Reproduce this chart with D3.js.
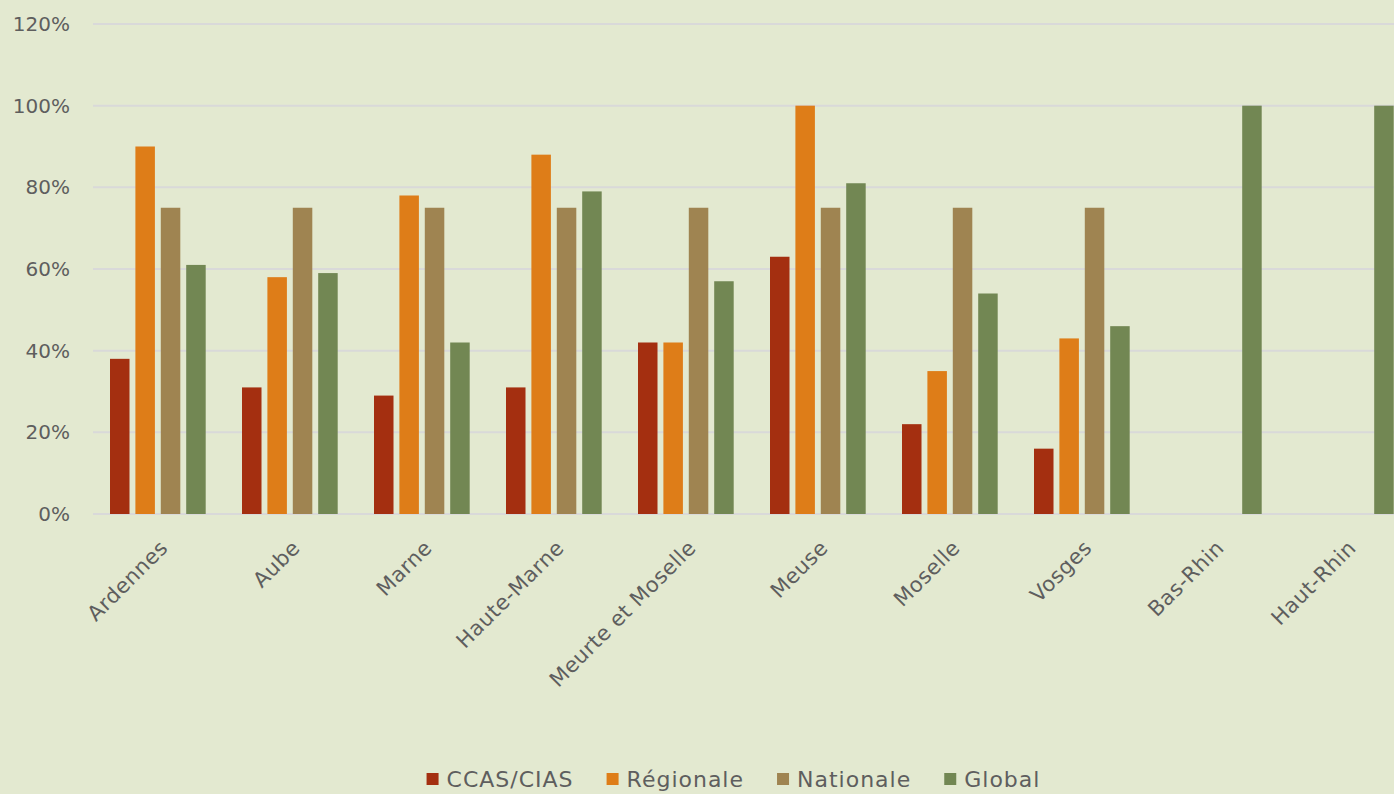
<!DOCTYPE html>
<html>
<head>
<meta charset="utf-8">
<script src="https://cdn.jsdelivr.net/npm/d3@7"></script>
<style>
  html, body { margin: 0; padding: 0; background: #E3E9D0; overflow: hidden; }
  svg { display: block; }
  text { font-family: "DejaVu Sans", sans-serif; fill: #5E5E5E; }
</style>
</head>
<body>
<svg id="chart" width="1394" height="794"></svg>
<script>
const categories = ["Ardennes", "Aube", "Marne", "Haute-Marne", "Meurte et Moselle", "Meuse", "Moselle", "Vosges", "Bas-Rhin", "Haut-Rhin"];
const seriesNames = ["CCAS/CIAS", "Régionale", "Nationale", "Global"];
const ccas      = [0.38, 0.31, 0.29, 0.31, 0.42, 0.63, 0.22, 0.16, 0, 0];
const regionale = [0.90, 0.58, 0.78, 0.88, 0.42, 1.00, 0.35, 0.43, 0, 0];
const nationale = [0.75, 0.75, 0.75, 0.75, 0.75, 0.75, 0.75, 0.75, 0, 0];
const global    = [0.61, 0.59, 0.42, 0.79, 0.57, 0.81, 0.54, 0.46, 1.00, 1.00];
const yTicks = [0, 0.2, 0.4, 0.6, 0.8, 1.0, 1.2];
const colors = ["#A42F10", "#DE7D18", "#9F8451", "#728753"];

const seriesValues = [ccas, regionale, nationale, global];
const data = categories.map((c, i) => ({
  cat: c,
  values: seriesNames.map((s, j) => ({ series: s, value: seriesValues[j][i], color: colors[j] }))
}));

const svg = d3.select("#chart");
const plotLeft = 92, plotTop = 24, plotBottom = 514;

const x0 = d3.scaleBand().domain(categories).range([plotLeft, plotLeft + 132 * categories.length]).padding(0);
const x1 = d3.scaleBand().domain(seriesNames).range([18, 113.7]).paddingInner(0.232).paddingOuter(0);
const y = d3.scaleLinear().domain([0, 1.2]).range([plotBottom, plotTop]);

// gridlines
svg.append("g").selectAll("line").data(yTicks).join("line")
  .attr("x1", plotLeft + 1).attr("x2", 1420)
  .attr("y1", d => y(d)).attr("y2", d => y(d))
  .attr("stroke", "#D9D9D9").attr("stroke-width", 2);

// y axis labels
const yAxis = d3.axisLeft(y).tickValues(yTicks).tickFormat(d3.format(".0%")).tickSize(0).tickPadding(0);
const gy = svg.append("g").attr("transform", `translate(70,0)`).call(yAxis);
gy.select(".domain").remove();
gy.selectAll("text").attr("font-size", 20).attr("font-family", "DejaVu Sans").attr("fill", "#5E5E5E");

// bars
const groups = svg.append("g").selectAll("g").data(data).join("g")
  .attr("transform", d => `translate(${x0(d.cat)},0)`);
groups.selectAll("rect").data(d => d.values).join("rect")
  .attr("x", d => x1(d.series))
  .attr("width", x1.bandwidth())
  .attr("y", d => y(d.value))
  .attr("height", d => y(0) - y(d.value))
  .attr("fill", d => d.color);

// x axis labels
svg.append("g").selectAll("text").data(categories).join("text")
  .attr("transform", d => `translate(${x0(d) + x0.bandwidth() / 2 + 6},${plotBottom + 30}) rotate(-45)`)
  .attr("text-anchor", "end")
  .attr("dy", "0.35em")
  .attr("font-size", 21)
  .attr("letter-spacing", 0.5)
  .text(d => d);

// legend
const legend = svg.append("g");
let lx = 0;
const gap = 33;
seriesNames.forEach((s, i) => {
  const g = legend.append("g");
  g.append("rect").attr("x", 0).attr("y", -6).attr("width", 12).attr("height", 12).attr("fill", colors[i]);
  const t = g.append("text").attr("x", 20).attr("y", 0).attr("dy", "0.35em")
    .attr("font-size", 22).attr("letter-spacing", 1).text(s);
  const w = 20 + t.node().getComputedTextLength();
  g.attr("transform", `translate(${lx},0)`);
  lx += w + gap;
});
const totalW = lx - gap;
legend.attr("transform", `translate(${(430 + 1037) / 2 - totalW / 2},779)`);
</script>
</body>
</html>
